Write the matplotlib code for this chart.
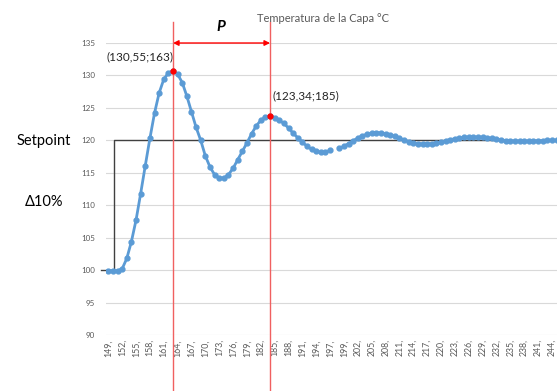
import numpy as np
import matplotlib
matplotlib.use("Agg")
import matplotlib.pyplot as plt

plt.rcParams['font.family'] = ['Lato', 'DejaVu Sans']

# temperature readings, one per sample (NaN = missing sample)
temps = [99.9, 99.9, 99.9, 100.2, 101.8, 104.4, 107.7, 111.8, 116.1, 120.3,
         124.2, 127.3, 129.4, 130.4, 130.7, 130.2, 128.9, 126.8, 124.4, 122.0,
         120.0, 117.6, 115.9, 114.7, 114.2, 114.2, 114.7, 115.7, 117.0, 118.3,
         119.6, 121.0, 122.2, 123.1, 123.6, 123.75, 123.5, 123.1, 122.6, 121.9,
         121.1, 120.4, 119.7, 119.1, 118.6, 118.3, 118.15, 118.2, 118.45, np.nan,
         118.75, 119.1, 119.5, 119.95, 120.35, 120.7, 120.95, 121.1, 121.2, 121.15,
         121.0, 120.85, 120.6, 120.35, 120.05, 119.8, 119.6, 119.5, 119.45, 119.45,
         119.5, 119.6, 119.7, 119.95, 120.1, 120.25, 120.35, 120.45, 120.5, 120.5,
         120.5, 120.45, 120.4, 120.3, 120.2, 120.05, 119.95, 119.9, 119.85, 119.85,
         119.85, 119.85, 119.9, 119.9, 119.95, 120.0, 120.0, 120.0]
tick_labels = ["149,", "152,", "155,", "158,", "161,", "164,", "167,", "170,",
               "173,", "176,", "179,", "182,", "185,", "188,", "191,", "194,",
               "197,", "199,", "202,", "205,", "208,", "211,", "214,", "217,",
               "220,", "223,", "226,", "229,", "232,", "235,", "238,", "241,", "244,"]
setpoint_x = [-1.65, 1.2, 1.2, 120]
setpoint_y = [100, 100, 120, 120]
peak_idx = [14, 35]
peak_text = ["(130,55;163)", "(123,34;185)"]

x = np.arange(len(temps))
t = np.array(temps)

fig = plt.figure(figsize=(5.57, 3.91), dpi=100)
ax = fig.add_axes([0.1903, 0.1432, 0.8097, 0.7468])

ax.set_xlim(-0.5, 97.1)
ax.set_ylim(90, 135)
ax.set_yticks(np.arange(90, 136, 5))
ax.set_xticks(np.arange(0, 97, 3))
ax.set_xticklabels(tick_labels, rotation=90, fontsize=6.3, color='#595959')
ax.tick_params(axis='y', labelsize=5.8, labelcolor='#595959', length=0, pad=8)
ax.tick_params(axis='x', length=0, pad=3)
ax.grid(axis='y', color='#d9d9d9', lw=0.8)
ax.set_axisbelow(True)
for s in ax.spines.values():
    s.set_visible(False)

# setpoint step
ax.plot(setpoint_x, setpoint_y, color='#404040', lw=1, clip_on=False, zorder=2)

# data
ax.plot(x, t, color='#5b9bd5', lw=2, marker='o', ms=3.5, zorder=3)

# peaks, period marks
for i, txt in zip(peak_idx, peak_text):
    ax.plot([i, i], [81, 138.2], color='#f06060', lw=1, clip_on=False, zorder=4)
    ax.plot(i, t[i], 'o', color='red', ms=3.5, zorder=5, clip_on=False)
ax.text(peak_idx[0] - 14.3, t[peak_idx[0]] + 1.4, peak_text[0], fontsize=8.5,
        color='#262626', va='bottom', clip_on=False)
ax.text(peak_idx[1] + 0.6, t[peak_idx[1]] + 2.2, peak_text[1], fontsize=8.5,
        color='#262626', va='bottom')
ax.annotate('', xy=(peak_idx[1], 135), xytext=(peak_idx[0], 135),
            arrowprops=dict(arrowstyle='<|-|>', color='red', lw=1,
                            mutation_scale=8, shrinkA=0, shrinkB=0),
            annotation_clip=False)
ax.text(24.4, 137.4, "P", fontsize=11, style='italic', fontweight='bold',
        ha='center', va='center', clip_on=False)

fig.text(323 / 557, 1 - 18 / 391, "Temperatura de la Capa °C", fontsize=8,
         color='#595959', ha='center', va='center')
fig.text(44 / 557, 1 - 141 / 391, "Setpoint", fontsize=10.5, ha='center', va='center')
fig.text(44 / 557, 1 - 202 / 391, "Δ10%", fontsize=10.5, ha='center', va='center')

fig.savefig("out.png", dpi=100)
